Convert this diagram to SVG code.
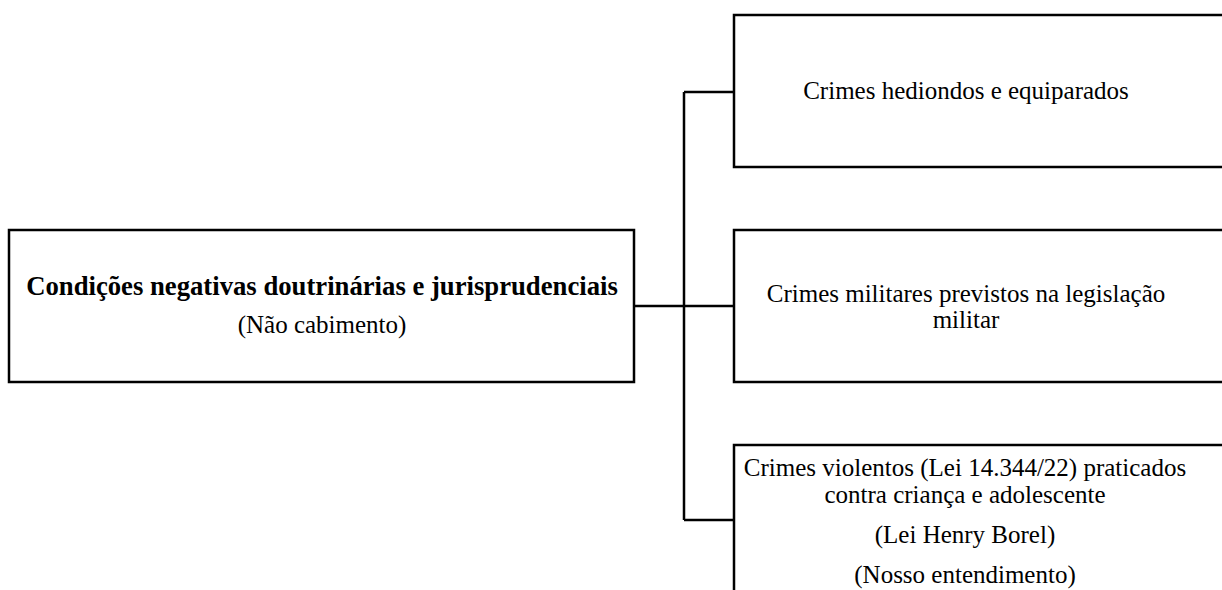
<svg xmlns="http://www.w3.org/2000/svg" width="1222" height="590" viewBox="0 0 1222 590">
<style>
.box{fill:#fff;stroke:#000;stroke-width:2.5}
.conn{fill:none;stroke:#000;stroke-width:2.5}
text{font-family:"Liberation Serif","Times New Roman",serif;font-size:25px;fill:#000;text-anchor:middle}
.b{font-weight:bold;font-size:26.7px}
</style>
<rect width="1222" height="590" fill="#fff"/>
<g id="connectors">
<path class="conn" d="M634,306 H684 M684,92 V520 M684,92 H734 M684,306 H734 M684,520 H734"/>
</g>
<g id="root">
<rect class="box" x="9" y="230" width="625" height="152"/>
<text class="b" x="322" y="295">Condições negativas doutrinárias e jurisprudenciais</text>
<text x="322" y="333">(Não cabimento)</text>
</g>
<g id="n1">
<rect class="box" x="734" y="15" width="500" height="152"/>
<text x="966" y="99">Crimes hediondos e equiparados</text>
</g>
<g id="n2">
<rect class="box" x="734" y="230" width="500" height="152"/>
<text x="966" y="302">Crimes militares previstos na legislação</text>
<text x="966" y="328">militar</text>
</g>
<g id="n3">
<rect class="box" x="734" y="445" width="500" height="160"/>
<text x="965" y="476">Crimes violentos (Lei 14.344/22) praticados</text>
<text x="965" y="503">contra criança e adolescente</text>
<text x="965" y="543">(Lei Henry Borel)</text>
<text x="965" y="583">(Nosso entendimento)</text>
</g>
</svg>
